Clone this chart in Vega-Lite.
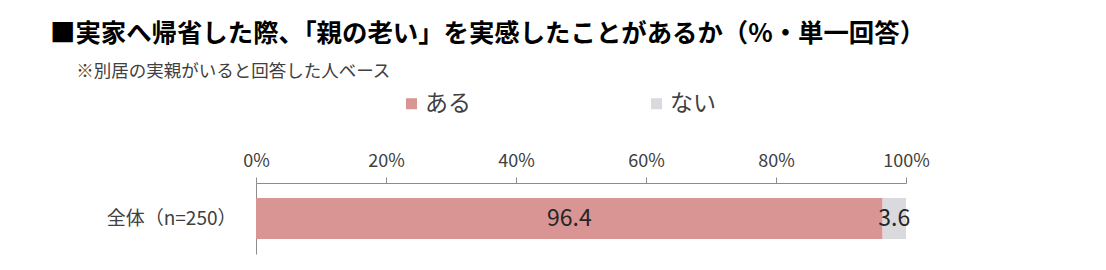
{
  "$schema": "https://vega.github.io/schema/vega-lite/v6.json",
  "autosize": {"type": "none"},
  "width": 650,
  "height": 71,
  "padding": {"left": 256, "top": 183, "right": 200, "bottom": 16},
  "background": "white",
  "config": {
    "font": "Noto Sans CJK JP",
    "view": {"stroke": null}
  },
  "title": {
    "text": "■実家へ帰省した際、「親の老い」を実感したことがあるか（%・単一回答）",
    "subtitle": "\u200b\u3000\u2002※別居の実親がいると回答した人ベース",
    "anchor": "start",
    "frame": "group",
    "dx": -206,
    "offset": 12,
    "fontSize": 25.4,
    "fontWeight": "bold",
    "color": "#000000",
    "subtitleFontSize": 17.5,
    "subtitleColor": "#404040",
    "subtitlePadding": 15
  },
  "data": {
    "values": [
      {"group": "全体（n=250）", "answer": "ある", "value": 96.4, "order": 1},
      {"group": "全体（n=250）", "answer": "ない", "value": 3.6, "order": 2}
    ]
  },
  "transform": [
    {"stack": "value", "groupby": ["group"], "as": ["v0", "v1"], "sort": [{"field": "order"}]},
    {"calculate": "(datum.v0 + datum.v1) / 2", "as": "mid"}
  ],
  "encoding": {
    "y": {
      "field": "group",
      "type": "nominal",
      "title": null,
      "scale": {"paddingInner": 0.268, "paddingOuter": 0.268},
      "axis": {
        "ticks": false,
        "domainColor": "#8c8c8c",
        "labelFontSize": 19,
        "labelColor": "#404040",
        "labelPadding": 20,
        "labelFont": "Noto Sans CJK JP"
      }
    }
  },
  "layer": [
    {
      "mark": {"type": "bar"},
      "encoding": {
        "x": {
          "field": "v0",
          "type": "quantitative",
          "scale": {"domain": [0, 100], "nice": false},
          "title": null,
          "axis": {
            "orient": "top",
            "values": [0, 20, 40, 60, 80, 100],
            "labelExpr": "datum.value + '%'",
            "labelFlush": false,
            "grid": false,
            "domainColor": "#8c8c8c",
            "tickColor": "#8c8c8c",
            "tickSize": 6,
            "labelFontSize": 18,
            "labelColor": "#404040",
            "labelPadding": 7
          }
        },
        "x2": {"field": "v1"},
        "color": {
          "field": "answer",
          "type": "nominal",
          "scale": {"domain": ["ある", "ない"], "range": ["#D99594", "#D9D9DE"]},
          "legend": {
            "title": null,
            "orient": "none",
            "direction": "horizontal",
            "legendX": 144,
            "legendY": -91,
            "symbolType": "square",
            "symbolSize": 121,
            "symbolStrokeWidth": 0,
            "labelFontSize": 23,
            "labelColor": "#404040",
            "labelOffset": 2,
            "columnPadding": 174
          }
        }
      }
    },
    {
      "mark": {"type": "text", "fontSize": 23, "color": "#262626"},
      "encoding": {
        "x": {"field": "mid", "type": "quantitative"},
        "text": {"field": "value", "type": "quantitative", "format": ".1f"}
      }
    }
  ]
}
